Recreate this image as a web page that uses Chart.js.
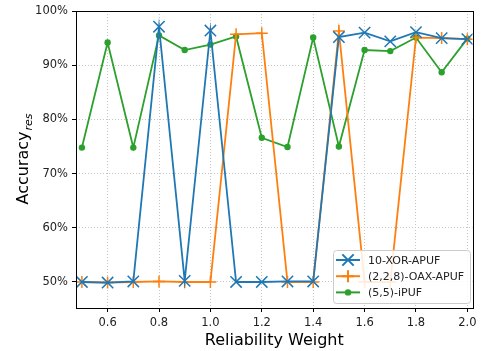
<!DOCTYPE html>
<html>
<head>
<meta charset="utf-8">
<script src="https://cdn.jsdelivr.net/npm/chart.js@4.4.0/dist/chart.umd.min.js"></script>
<style>
  body { margin: 0; background: #fff; }
  #wrap { width: 482px; height: 351px; }
</style>
</head>
<body>
<div id="wrap"><canvas id="accChart" width="482" height="351"></canvas></div>
<script>
// ====== dados ======
const weights = [0.5, 0.6, 0.7, 0.8, 0.9, 1.0, 1.1, 1.2, 1.3, 1.4, 1.5, 1.6, 1.7, 1.8, 1.9, 2.0]
const xorApuf = [50.0, 49.9, 50.1, 97.1, 50.2, 96.4, 50.0, 50.0, 50.1, 50.1, 95.2, 96.0, 94.4, 96.1, 95.0, 94.8]
const oaxApuf = [50.0, 49.9, 50.0, 50.1, 50.0, 50.0, 95.7, 95.9, 50.0, 50.0, 96.3, 50.0, 50.0, 95.1, 95.0, 94.8]
const iPuf = [74.8, 94.2, 74.8, 95.5, 92.8, 93.8, 95.3, 76.6, 74.9, 95.1, 75.0, 92.8, 92.6, 95.1, 88.7, 94.9]
const seriesNames = ['10-XOR-APUF', '(2,2,8)-OAX-APUF', '(5,5)-iPUF']
const yTicks = [50, 60, 70, 80, 90, 100]
const xTicks = [0.6, 0.8, 1.0, 1.2, 1.4, 1.6, 1.8, 2.0]

const FONT = 'DejaVu Sans'

function pts(values) {
    return weights.map((w, i) => ({ x: w, y: values[i] }))
}

// legenda dentro do gráfico, canto inferior direito
const innerLegend = {
    id: 'innerLegend',
    afterDatasetsDraw(chart) {
        const ctx = chart.ctx
        const x0 = 333, y0 = 250, w = 137, h = 53
        ctx.save()
        ctx.fillStyle = 'rgba(255,255,255,0.85)'
        ctx.strokeStyle = '#cccccc'
        ctx.lineWidth = 1
        ctx.beginPath()
        ctx.roundRect(x0 + 0.5, y0 + 0.5, w, h, 3)
        ctx.fill()
        ctx.stroke()
        chart.data.datasets.forEach((ds, i) => {
            const cy = y0 + 10 + i * 16.2
            ctx.strokeStyle = ds.borderColor
            ctx.fillStyle = ds.borderColor
            ctx.lineWidth = 2
            ctx.beginPath()
            ctx.moveTo(336, cy)
            ctx.lineTo(360, cy)
            ctx.stroke()
            Chart.helpers.drawPoint(ctx, {
                pointStyle: ds.pointStyle,
                radius: ds.pointRadius,
                borderWidth: ds.pointBorderWidth ?? 1.5,
                rotation: 0
            }, 348, cy)
            ctx.fillStyle = '#222'
            ctx.font = '11px ' + FONT
            ctx.textBaseline = 'middle'
            ctx.textAlign = 'left'
            ctx.fillText(ds.label, 368, cy + 1)
        })
        ctx.restore()
    }
}

// moldura e títulos dos eixos
const frameAndTitles = {
    id: 'frameAndTitles',
    afterDraw(chart) {
        const ctx = chart.ctx
        const a = chart.chartArea
        ctx.save()
        ctx.strokeStyle = '#000'
        ctx.lineWidth = 1
        ctx.strokeRect(Math.round(a.left) + 0.5, Math.round(a.top) + 0.5,
            Math.round(a.right - a.left), Math.round(a.bottom - a.top))

        ctx.fillStyle = '#000'
        ctx.font = '16px ' + FONT
        ctx.textAlign = 'center'
        ctx.textBaseline = 'alphabetic'
        ctx.fillText('Reliability Weight', (a.left + a.right) / 2, 345)

        // Accuracy_res
        ctx.translate(28, (a.top + a.bottom) / 2)
        ctx.rotate(-Math.PI / 2)
        ctx.font = '16px ' + FONT
        const w1 = ctx.measureText('Accuracy').width
        ctx.font = 'italic 11px ' + FONT
        const w2 = ctx.measureText('res').width
        const start = -(w1 + w2) / 2
        ctx.textAlign = 'left'
        ctx.font = '16px ' + FONT
        ctx.fillText('Accuracy', start, 0)
        ctx.font = 'italic 11px ' + FONT
        ctx.fillText('res', start + w1 + 1, 4)
        ctx.restore()
    }
}

const gridCommon = {
    color: '#c4c4c4',
    lineWidth: 1,
    tickLength: 4,
    tickColor: '#000',
    tickWidth: 1,
    tickBorderDash: [1, 0]
}

new Chart(document.getElementById('accChart').getContext('2d'), {
    type: 'line',
    data: {
        datasets: [
            {
                label: seriesNames[0],
                data: pts(xorApuf),
                borderColor: '#1f77b4',
                backgroundColor: '#1f77b4',
                borderWidth: 1.8,
                pointStyle: 'crossRot',
                pointRadius: 8,
                pointBorderWidth: 1.5,
                pointBorderColor: '#1f77b4'
            },
            {
                label: seriesNames[1],
                data: pts(oaxApuf),
                borderColor: '#ff7f0e',
                backgroundColor: '#ff7f0e',
                borderWidth: 1.8,
                pointStyle: 'cross',
                pointRadius: 6,
                pointBorderWidth: 1.5,
                pointBorderColor: '#ff7f0e'
            },
            {
                label: seriesNames[2],
                data: pts(iPuf),
                borderColor: '#2ca02c',
                backgroundColor: '#2ca02c',
                borderWidth: 1.8,
                pointStyle: 'circle',
                pointRadius: 3.2,
                pointBorderWidth: 0,
                pointBackgroundColor: '#2ca02c'
            }
        ]
    },
    options: {
        responsive: false,
        animation: false,
        layout: { padding: { top: 11, right: 7, left: 0, bottom: 0 } },
        plugins: {
            legend: { display: false },
            tooltip: { enabled: false }
        },
        scales: {
            x: {
                type: 'linear',
                min: 0.477,
                max: 2.02,
                afterBuildTicks: s => { s.ticks = xTicks.map(v => ({ value: v })) },
                afterFit: s => { s.height = 43 },
                ticks: {
                    color: '#222',
                    font: { family: FONT, size: 11.5 },
                    padding: 4,
                    maxRotation: 0,
                    callback: v => v.toFixed(1)
                },
                grid: gridCommon,
                border: { display: false, dash: [1, 2] }
            },
            y: {
                min: 45.2,
                max: 100,
                afterBuildTicks: s => { s.ticks = yTicks.map(v => ({ value: v })) },
                afterFit: s => { s.width = 76 },
                ticks: {
                    color: '#222',
                    font: { family: FONT, size: 11.5 },
                    padding: 4,
                    callback: v => v + '%'
                },
                grid: gridCommon,
                border: { display: false, dash: [1, 2] }
            }
        }
    },
    plugins: [innerLegend, frameAndTitles]
})
</script>
</body>
</html>
